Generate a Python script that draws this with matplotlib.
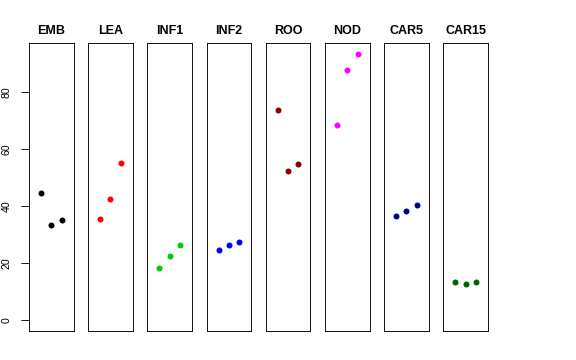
import matplotlib
matplotlib.use("Agg")
import matplotlib.pyplot as plt

plt.rcParams['font.family'] = ['Liberation Sans', 'DejaVu Sans']

categories = ["EMB", "LEA", "INF1", "INF2", "ROO", "NOD", "CAR5", "CAR15"]
colors = ["#000000", "#FF0000", "#00CD00", "#0000FF", "#8B0000", "#FF00FF", "#00008B", "#006400"]
values = {
    "EMB": [44.7, 33.4, 35.2],
    "LEA": [35.4, 42.4, 55.0],
    "INF1": [18.3, 22.6, 26.3],
    "INF2": [24.8, 26.4, 27.5],
    "ROO": [73.5, 52.3, 54.9],
    "NOD": [68.4, 87.7, 93.3],
    "CAR5": [36.6, 38.2, 40.3],
    "CAR15": [13.3, 12.8, 13.3],
}
reps = [1, 2, 3]
yticks = [0, 20, 40, 60, 80]

W, H = 576, 360
fig = plt.figure(figsize=(W / 72, H / 72), dpi=72)

ymax = max(max(v) for v in values.values())
ypad = ymax * 0.04
xpad = 4 * 0.04

left0, step, width = 29, 59.2, 44.5
bottom_px, top_px = 331, 43.3
for i, (cat, col) in enumerate(zip(categories, colors)):
    ax = fig.add_axes([(left0 + i * step) / W, (H - bottom_px) / H,
                       width / W, (bottom_px - top_px) / H])
    ax.plot(reps, values[cat], 'o', color=col, markersize=6, markeredgewidth=0)
    ax.set_xlim(0 - xpad, 4 + xpad)
    ax.set_ylim(0 - ypad, ymax + ypad)
    ax.set_xticks([])
    for s in ax.spines.values():
        s.set_linewidth(0.9)
        s.set_color("black")
    ax.set_title(cat, fontsize=12.5, fontweight='bold', pad=9)
    if i == 0:
        ax.set_yticks(yticks)
        ax.set_yticklabels([str(t) for t in yticks], rotation=90, va='center', fontsize=10.5)
        ax.tick_params(axis='y', length=8, width=0.9, pad=9)
    else:
        ax.set_yticks([])

fig.savefig("out.png", dpi=72, facecolor="white")
